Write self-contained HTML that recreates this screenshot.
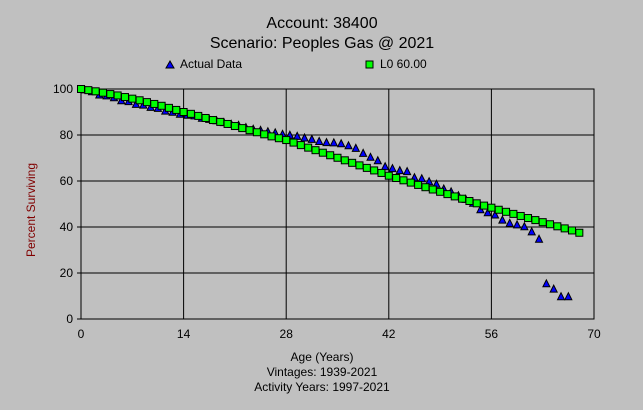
<!DOCTYPE html>
<html><head><meta charset="utf-8"><style>
body{margin:0;background:#c0c0c0;}
svg{display:block;font-family:"Liberation Sans",sans-serif;}
</style></head><body>
<svg width="643" height="410" viewBox="0 0 643 410">
<rect x="0" y="0" width="643" height="410" fill="#c0c0c0"/>
<text x="322" y="28" font-size="16" text-anchor="middle">Account: 38400</text>
<text x="322" y="48" font-size="16" text-anchor="middle">Scenario: Peoples Gas @ 2021</text>
<g>
<polygon points="166,68 170,61 174,68" fill="#0000ff" stroke="#000" stroke-width="1"/>
<text x="180" y="68" font-size="12">Actual Data</text>
<rect x="366" y="61" width="7" height="7" fill="#00ff00" stroke="#000" stroke-width="1"/>
<text x="380" y="68" font-size="12">L0 60.00</text>
</g>
<g id="grid"></g>
<g id="ticks"></g>
<g id="marks"></g>
<text transform="translate(35,210) rotate(-90)" font-size="12" text-anchor="middle" fill="#800000">Percent Surviving</text>
<text x="322" y="361" font-size="12" text-anchor="middle">Age (Years)</text>
<text x="322" y="376" font-size="12" text-anchor="middle">Vintages: 1939-2021</text>
<text x="322" y="391" font-size="12" text-anchor="middle">Activity Years: 1997-2021</text>
</svg>
<script>
const xTicks=[0,14,28,42,56,70];
const yTicks=[0,20,40,60,80,100];
const l0Ages=[0,1,2,3,4,5,6,7,8,9,10,11,12,13,14,15,16,17,18,19,20,21,22,23,24,25,26,27,28,29,30,31,32,33,34,35,36,37,38,39,40,41,42,43,44,45,46,47,48,49,50,51,52,53,54,55,56,57,58,59,60,61,62,63,64,65,66,67,68];
const l0Values=[100,99.5,99,98.4,97.8,97.2,96.5,95.8,95.1,94.3,93.5,92.7,91.8,90.9,90.0,89.2,88.3,87.4,86.5,85.7,84.8,83.9,83.0,82.1,81.2,80.3,79.4,78.6,77.8,76.7,75.6,74.5,73.4,72.3,71.2,70.1,69.0,67.9,66.8,65.7,64.6,63.5,62.3,61.3,60.3,59.3,58.3,57.3,56.3,55.3,54.3,53.3,52.3,51.3,50.3,49.3,48.4,47.5,46.6,45.7,44.8,43.9,43.0,42.1,41.2,40.3,39.4,38.5,37.5];
const actualAges=[0.5,1.5,2.5,3.5,4.5,5.5,6.5,7.5,8.5,9.5,10.5,11.5,12.5,13.5,14.5,15.5,16.5,17.5,18.5,19.5,20.5,21.5,22.5,23.5,24.5,25.5,26.5,27.5,28.5,29.5,30.5,31.5,32.5,33.5,34.5,35.5,36.5,37.5,38.5,39.5,40.5,41.5,42.5,43.5,44.5,45.5,46.5,47.5,48.5,49.5,50.5,51.5,52.5,53.5,54.5,55.5,56.5,57.5,58.5,59.5,60.5,61.5,62.5,63.5,64.5,65.5,66.5];
const actualValues=[99.6,98.8,97.4,97,96.2,94.9,94.5,93.3,93,92,91.6,90.4,89.9,89,88.6,88.3,87.3,86.8,86.2,85.4,84.6,84.2,83.2,82.5,82,81.4,80.9,80.3,79.9,79.4,78.7,78.1,77.2,76.7,76.6,76.2,75.3,74.2,72,70.3,68.8,66.2,65.4,64.5,64.1,61.4,61,59.7,58.6,56.5,55.3,53.6,52,50.3,47.5,46.2,45.2,43,41.6,40.9,40.1,37.9,34.7,15.3,13,9.7,9.7];
const NS='http://www.w3.org/2000/svg';
const X0=81,X1=594,Y0=319,Y1=89;
function xs(v){return X0+(v-0)/(70-0)*(X1-X0);}
function ys(v){return Y0-(v-0)/(100-0)*(Y0-Y1);}
function mk(t,a,parent){const e=document.createElementNS(NS,t);for(const k in a)e.setAttribute(k,a[k]);parent.appendChild(e);return e;}
const grid=document.getElementById('grid'),ticks=document.getElementById('ticks'),marks=document.getElementById('marks');
xTicks.forEach(t=>{const l=mk('line',{x1:xs(t),x2:xs(t),y1:Y1,y2:Y0,stroke:'#000','stroke-width':1},grid);


const tx=mk('text',{x:xs(t),y:338,'font-size':12,'text-anchor':'middle'},ticks);tx.textContent=t;

});
yTicks.forEach(t=>{const l=mk('line',{x1:X0-4,x2:X1,y1:ys(t),y2:ys(t),stroke:'#000','stroke-width':1},grid);


const tx=mk('text',{x:73,y:ys(t)+4,'font-size':12,'text-anchor':'end'},ticks);tx.textContent=t;

});
const fr=mk('rect',{x:X0,y:Y1,width:X1-X0,height:Y0-Y1,fill:'none',stroke:'#000','stroke-width':1},grid);


actualAges.forEach((a,i)=>{const x=xs(a),y=ys(actualValues[i]);
const p=mk('polygon',{points:`${x-3.5},${y+3} ${x},${y-4} ${x+3.5},${y+3}`,fill:'#0000ff',stroke:'#000','stroke-width':1},marks);

});
l0Ages.forEach((a,i)=>{const x=xs(a),y=ys(l0Values[i]);
const r=mk('rect',{x:x-3.5,y:y-3.5,width:7,height:7,fill:'#00ff00',stroke:'#000','stroke-width':1},marks);

});
</script>
</body></html>
